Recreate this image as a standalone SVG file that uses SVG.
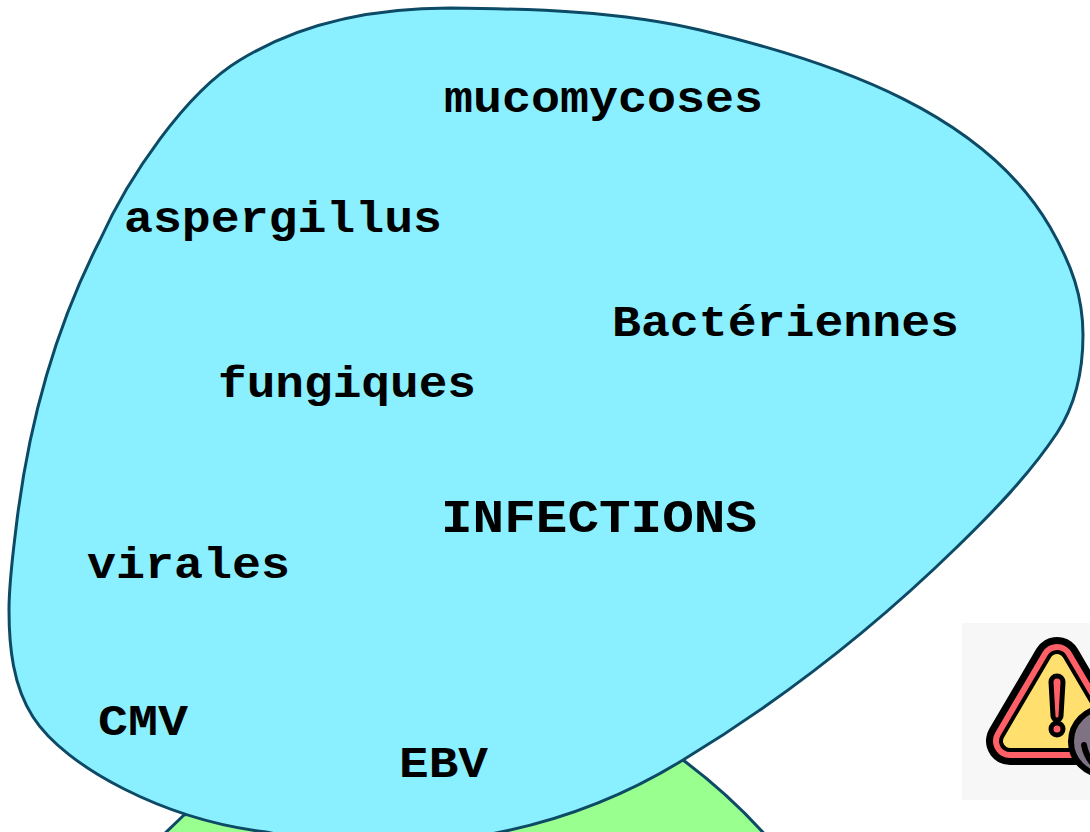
<svg xmlns="http://www.w3.org/2000/svg" width="1090" height="832" viewBox="0 0 1090 832">
<style>
.t{font-family:"Liberation Mono","Courier New",monospace;font-weight:700;fill:#000;font-size:44px}
.e{stroke:#0d4a66;stroke-width:3}
.tri{fill:none;stroke-linejoin:round}
</style>
<rect width="1090" height="832" fill="#fff"/>
<g id="green-shape"><path class="e" fill="#99ff8f" d="M184 815 L160 838 L768 838 Q730 795 683 760 L400 760 Z"/></g>
<g id="infections-blob"><path class="e" fill="#8af0ff" d="M450 8 C534 9 619 11 700 30 C840 63 985 115 1050 227 C1072 265 1083 297 1083 335 C1083 370 1076 404 1057 433 C1029 475 993 512 957 547 C874 628 782 700 683 760 C628 794 564 819 501 832 C425 848 342 848 266 832 C165 820 65 767 33 717 C13 686 9 647 9 610 C9 580 13.500 550 17 520 C29 424 56 326 100 240 C128 178 185 93 240 60 C302 22 377 8 450 8 Z"/></g>
<g id="labels">
<text class="t" x="444" y="112" textLength="319" lengthAdjust="spacingAndGlyphs">mucomycoses</text>
<text class="t" x="124" y="232" textLength="318" lengthAdjust="spacingAndGlyphs">aspergillus</text>
<text class="t" x="612" y="336" textLength="347" lengthAdjust="spacingAndGlyphs">Bactériennes</text>
<text class="t" x="218" y="397" textLength="258" lengthAdjust="spacingAndGlyphs">fungiques</text>
<text class="t" x="441" y="532" style="font-size:46px" textLength="316" lengthAdjust="spacingAndGlyphs">INFECTIONS</text>
<text class="t" x="87" y="578" textLength="203" lengthAdjust="spacingAndGlyphs">virales</text>
<text class="t" x="98" y="735" textLength="90" lengthAdjust="spacingAndGlyphs">CMV</text>
<text class="t" x="399" y="777" textLength="89" lengthAdjust="spacingAndGlyphs">EBV</text>
</g>
<g id="warning-icon">
<rect x="962" y="623" width="128" height="177" fill="#f7f7f7"/>
<path class="tri" d="M1057 661 L1010 741 L1104 741 Z" stroke="#000" stroke-width="48"/>
<path class="tri" d="M1057 661 L1010 741 L1104 741 Z" stroke="#ff5f66" stroke-width="34"/>
<path class="tri" d="M1057 661 L1010 741 L1104 741 Z" stroke="#000" stroke-width="22"/>
<path d="M1057 661 L1010 741 L1104 741 Z" fill="#ffdf6e" stroke="#ffdf6e" stroke-width="14" stroke-linejoin="round"/>
<path d="M1051 682 a6 6 0 0 1 12 0 L1061 716 a4 4 0 0 1 -8 0 Z" fill="#ff5f66" stroke="#000" stroke-width="5"/>
<circle cx="1057" cy="729" r="6" fill="#ff5f66" stroke="#000" stroke-width="5"/>
<circle cx="1104.500" cy="741.500" r="33.500" fill="#7f7283" stroke="#000" stroke-width="6"/>
<path d="M1084 745 Q1086 756 1093 764" fill="none" stroke="#000" stroke-width="6" stroke-linecap="round"/>
</g>
</svg>
